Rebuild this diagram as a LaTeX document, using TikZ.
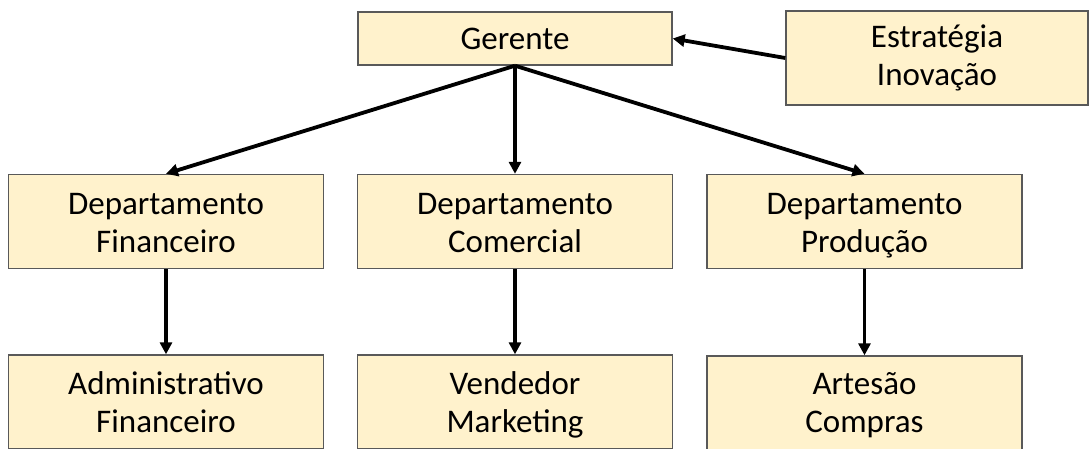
\documentclass[tikz,border=0pt]{standalone}
\usepackage{fontspec}
\setmainfont{Carlito}
\usetikzlibrary{arrows.meta}
\definecolor{boxfill}{HTML}{FFF2CC}
\definecolor{boxline}{HTML}{595959}

\begin{document}
\begin{tikzpicture}
[x=1pt,y=-1pt,
  arrowdecorate/.style={-{Triangle[length=12pt,width=12pt]},line width=3.8pt},%
  boxdecorate/.style={shape=rectangle,draw=boxline,line width=1.4pt,fill=boxfill,
    inner sep=0pt,align=center,font=\fontsize{33}{38}\selectfont},
  twolines/.style={text height=#1,text depth=0pt}]
\useasboundingbox (0,0) rectangle (1089,448);
\clip (0,0) rectangle (1089,448);
%%
%% Boxes
\node (ger) at (515,38.5) [boxdecorate,minimum width=314pt,minimum height=53pt] {Gerente};
\node (est) at (937,58) [boxdecorate,twolines=54pt,minimum width=302pt,minimum height=94pt]
  {Estratégia\\Inovação};
\foreach \nodename/\x/\y/\th/\txt in {
    fin/166/221.5/62pt/{Departamento\\Financeiro},
    com/515/221.5/62pt/{Departamento\\Comercial},
    prd/864.5/221.5/62pt/{Departamento\\Produção},
    adm/166/402/60pt/{Administrativo\\Financeiro},
    ven/515/402/60pt/{Vendedor\\Marketing},
    art/864.5/403/58pt/{Artesão\\Compras}}
{
  \node (\nodename) at (\x,\y) [boxdecorate,twolines=\th,minimum width=315pt,minimum height=94pt] {\txt};
}
%%
%% Arrows
\draw[arrowdecorate] (est.west) -- (ger.east);
\path
\foreach \startnode/\endnode in {ger/fin, ger/com, ger/prd} {
  (\startnode.south) edge[arrowdecorate] (\endnode.north)
};
\path
\foreach \startnode/\endnode in {fin/adm, com/ven, prd/art} {
  (\startnode.south) edge[arrowdecorate] (\startnode.south |- \endnode.north)
};
\end{tikzpicture}
\end{document}
